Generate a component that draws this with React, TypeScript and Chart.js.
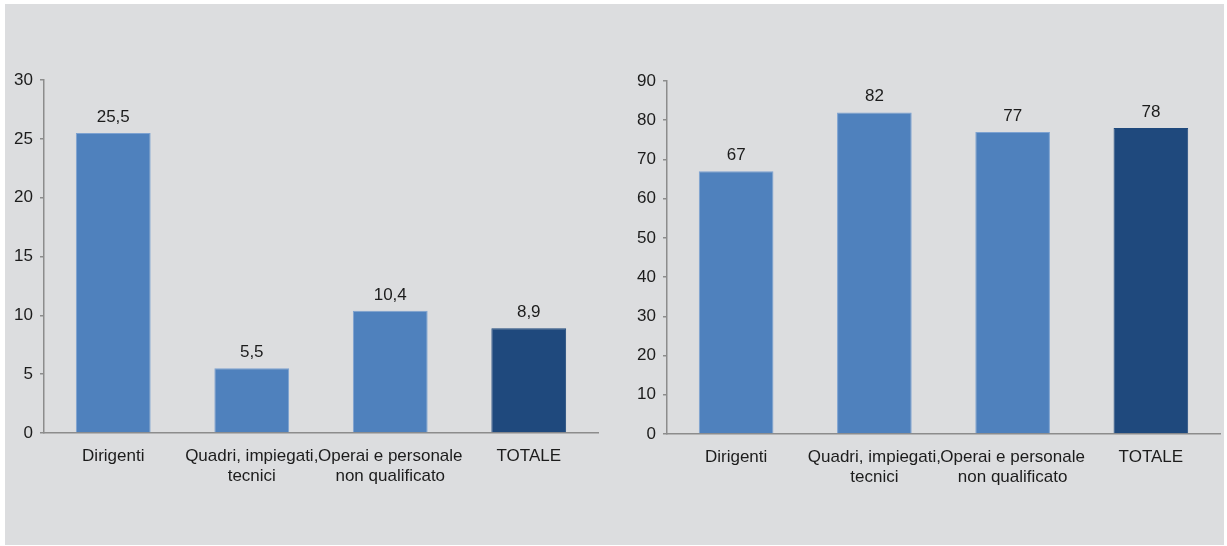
import React, { useEffect, useRef } from "react";
import { Chart, registerables } from "chart.js";

Chart.register(...registerables);

const categories: (string | string[])[] = [
  "Dirigenti",
  ["Quadri, impiegati,", "tecnici"],
  ["Operai e personale", "non qualificato"],
  "TOTALE",
];
const leftValues = [25.5, 5.5, 10.4, 8.9];
const rightValues = [67, 82, 77, 78];
const leftTicks = { min: 0, max: 30, step: 5 };
const rightTicks = { min: 0, max: 90, step: 10 };

const BLUE = "#4f81bd";
const DARK = "#1f497d";
const FONT = "'Liberation Sans', Arial, sans-serif";
const TEXT = "#1c1c1c";
const AXIS = "#8c8c8c";

const valueLabels = {
  id: "valueLabels",
  afterDatasetsDraw(chart: any) {
    const ctx = chart.ctx;
    const meta = chart.getDatasetMeta(0);
    const data = chart.data.datasets[0].data;
    ctx.save();
    ctx.font = `17px ${FONT}`;
    ctx.fillStyle = TEXT;
    ctx.textAlign = "center";
    ctx.textBaseline = "alphabetic";
    meta.data.forEach((bar: any, i: number) => {
      const txt = String(data[i]).replace(".", ",");
      ctx.fillText(txt, bar.x, bar.y - 11);
    });
    ctx.restore();
  },
};

function BarChart(props: {
  values: number[];
  ticks: { min: number; max: number; step: number };
  yWidth: number;
  padRight: number;
  padTop: number;
  bottom: number;
}) {
  const ref = useRef<HTMLCanvasElement>(null);
  useEffect(() => {
    if (!ref.current) return;
    const colors = props.values.map((_, i) => (i === props.values.length - 1 ? DARK : BLUE));
    const borders = props.values.map((_, i) => (i === props.values.length - 1 ? DARK : "#7da2d1"));
    const xHeight = 80;
    const chart = new Chart(ref.current, {
      type: "bar",
      data: {
        labels: categories,
        datasets: [
          {
            data: props.values,
            backgroundColor: colors,
            borderColor: borders,
            borderWidth: 1,
            barPercentage: 0.54,
            categoryPercentage: 1,
          },
        ],
      },
      options: {
        animation: false,
        responsive: true,
        maintainAspectRatio: false,
        layout: {
          padding: {
            top: props.padTop,
            left: 0,
            right: props.padRight,
            bottom: 546 - props.bottom - xHeight,
          },
        },
        plugins: { legend: { display: false }, tooltip: { enabled: false } },
        scales: {
          x: {
            grid: { display: false },
            border: { display: true, color: AXIS, width: 1.5 },
            ticks: {
              color: TEXT,
              font: { family: FONT, size: 17, lineHeight: 1.15 },
              padding: 6,
              maxRotation: 0,
              autoSkip: false,
            },
            afterFit: (s: any) => {
              s.height = xHeight;
            },
          },
          y: {
            min: props.ticks.min,
            max: props.ticks.max,
            grid: {
              drawOnChartArea: false,
              drawTicks: true,
              tickLength: 4,
              color: AXIS,
              lineWidth: 1.5,
            },
            border: { display: true, color: AXIS, width: 1.5 },
            ticks: {
              stepSize: props.ticks.step,
              color: TEXT,
              font: { family: FONT, size: 17 },
              padding: 7,
            },
            afterFit: (s: any) => {
              s.width = props.yWidth;
            },
          },
        },
      },
      plugins: [valueLabels],
    });
    return () => chart.destroy();
  }, []);
  return <canvas ref={ref} />;
}

export default function App() {
  return (
    <div style={{ position: "fixed", left: 0, top: 0, width: 1227, height: 546, background: "#ffffff" }}>
      <div
        style={{
          position: "absolute",
          left: 5,
          top: 4,
          width: 1219,
          height: 541,
          background: "#dcdddf",
        }}
      />
      <div style={{ position: "absolute", left: 0, top: 0, width: 612, height: 546 }}>
        <BarChart values={leftValues} ticks={leftTicks} yWidth={44} padRight={14} padTop={80} bottom={433} />
      </div>
      <div style={{ position: "absolute", left: 612, top: 0, width: 615, height: 546 }}>
        <BarChart values={rightValues} ticks={rightTicks} yWidth={55} padRight={7} padTop={81} bottom={434} />
      </div>
    </div>
  );
}
